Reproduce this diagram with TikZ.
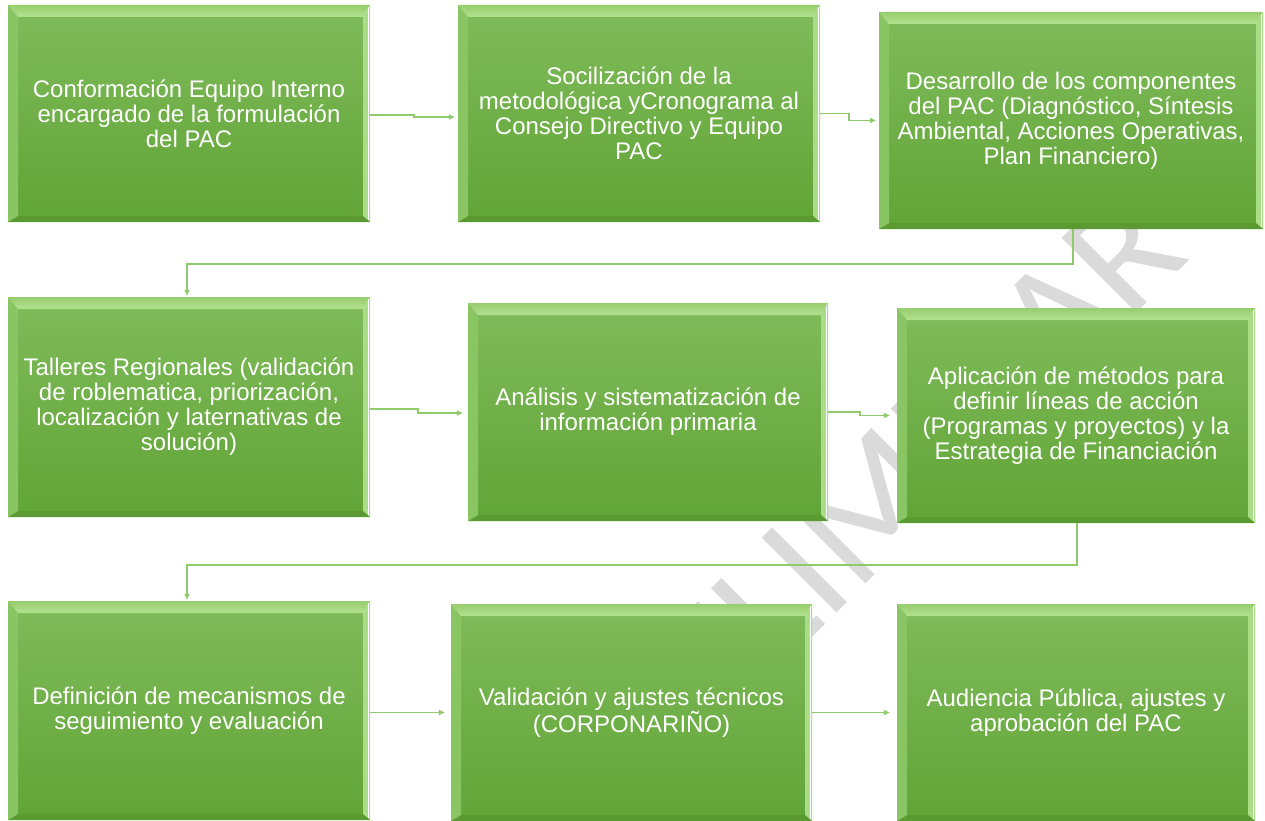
\documentclass[tikz,border=0pt]{standalone}
\usepackage{fontspec}
\setmainfont{Liberation Sans}
\newfontfamily\wmfont{Carlito}
\usetikzlibrary{calc,arrows.meta}
\definecolor{wmgray}{HTML}{DADADA}
\definecolor{faceT}{HTML}{7EBA59}
\definecolor{faceB}{HTML}{62A537}
\definecolor{bevT1}{HTML}{98CD6E}
\definecolor{bevT2}{HTML}{B3E290}
\definecolor{bevL}{HTML}{8AC563}
\definecolor{bevR}{HTML}{AADD88}
\definecolor{bevB}{HTML}{5A9A31}
\definecolor{conncol}{HTML}{8FCA6C}
\newcommand\bevelfill{%
  \coordinate (NE) at (NW -| SE);
  \coordinate (SW) at (SE -| NW);
  \coordinate (iNW) at ($(NW)+(10pt,-12pt)$);
  \coordinate (iNE) at ($(NE)+(-7pt,-12pt)$);
  \coordinate (iSE) at ($(SE)+(-7pt,6pt)$);
  \coordinate (iSW) at ($(SW)+(10pt,6pt)$);
  \shade[top color=faceT, bottom color=faceB] (iNW) rectangle (iSE);
  \shade[top color=bevT1, bottom color=bevT2] (NW) -- (NE) -- (iNE) -- (iNW) -- cycle;
  \fill[bevL] (NW) -- (iNW) -- (iSW) -- (SW) -- cycle;
  \fill[bevR] (NE) -- (SE) -- (iSE) -- (iNE) -- cycle;
  \fill[bevB] (SW) -- (SE) -- (iSE) -- (iSW) -- cycle;
  \draw[white, line width=1.2pt] ($(NE)+(-1.5pt,-2pt)$) -- ($(SE)+(-1.5pt,2pt)$);
}
\tikzset{
  bevbox/.style={rectangle, inner sep=0pt, align=center, text=white,
    font=\fontsize{24}{25}\selectfont,
    path picture={
      \coordinate (NW) at (path picture bounding box.north west);
      \coordinate (SE) at (path picture bounding box.south east);
      \bevelfill
    }},
  conn/.style={draw=conncol, line width=1.6pt,
    -{Triangle[length=6pt,width=5pt]}, shorten >=1pt},
  wm/.style={font=\wmfont\fontsize{165}{165}\selectfont, text=wmgray, inner sep=0pt}
}
\begin{document}
\begin{tikzpicture}[x=1pt,y=-1pt]
\useasboundingbox (0,0) rectangle (1265,821);
\fill[white] (0,0) rectangle (1265,821);

% watermark
\node[wm, rotate=45, anchor=base east] (wmark) at (1192,258) {PRELIMINAR};

% boxes
\node[bevbox, minimum width=362pt, minimum height=217pt] (b1) at (189,113.5)
  {Conformación Equipo Interno\\encargado de la formulación\\del PAC};
\node[bevbox, minimum width=362pt, minimum height=217pt] (b2) at (639,113.5)
  {Socilización de la\\metodológica yCronograma al\\Consejo Directivo y Equipo\\PAC};
\node[bevbox, minimum width=384pt, minimum height=217pt] (b3) at (1071,120.5)
  {Desarrollo de los componentes\\del PAC (Diagnóstico, Síntesis\\Ambiental, Acciones Operativas,\\Plan Financiero)};
\node[bevbox, minimum width=362pt, minimum height=220pt] (b4) at (189,407)
  {Talleres Regionales (validación\\de roblematica, priorización,\\localización y laternativas de\\solución)};
\node[bevbox, minimum width=360pt, minimum height=218pt] (b5) at (648,412)
  {Análisis y sistematización de\\información primaria};
\node[bevbox, minimum width=358pt, minimum height=215pt] (b6) at (1076,415.5)
  {Aplicación de métodos para\\definir líneas de acción\\(Programas y proyectos) y la\\Estrategia de Financiación};
\node[bevbox, minimum width=362pt, minimum height=219pt] (b7) at (189,710.5)
  {Definición de mecanismos de\\seguimiento y evaluación};
\node[bevbox, minimum width=361pt, minimum height=217pt] (b8) at (631.5,712.5)
  {Validación y ajustes técnicos\\(CORPONARIÑO)};
\node[bevbox, minimum width=358pt, minimum height=217pt] (b9) at (1076,712.5)
  {Audiencia Pública, ajustes y\\aprobación del PAC};

% connectors
\draw[conn] ([yshift=-1.5pt]b1.east) -- ++(44,0) |- ([xshift=-2pt,yshift=-3.5pt]b2.west);
\draw[conn] ([yshift=0pt]b2.east) -- ++(29,0) |- ([xshift=-2pt]b3.west);
\draw[conn] ([xshift=2pt]b3.south) -- ++(0,35) -| ([xshift=-2pt]b4.north);
\draw[conn] ([yshift=-2pt]b4.east) -- ++(48,0) |- ([xshift=-4pt,yshift=-1pt]b5.west);
\draw[conn] (b5.east) -- ++(32,0) |- ([xshift=-6pt]b6.west);
\draw[conn] ([xshift=1pt]b6.south) -- ++(0,42) -| ([xshift=-2pt]b7.north);
\draw[conn] (b8.west -| b7.east) -- ([xshift=-5pt]b8.west);
\draw[conn] (b8.east) -- ([xshift=-6pt]b9.west);
\end{tikzpicture}
\end{document}
